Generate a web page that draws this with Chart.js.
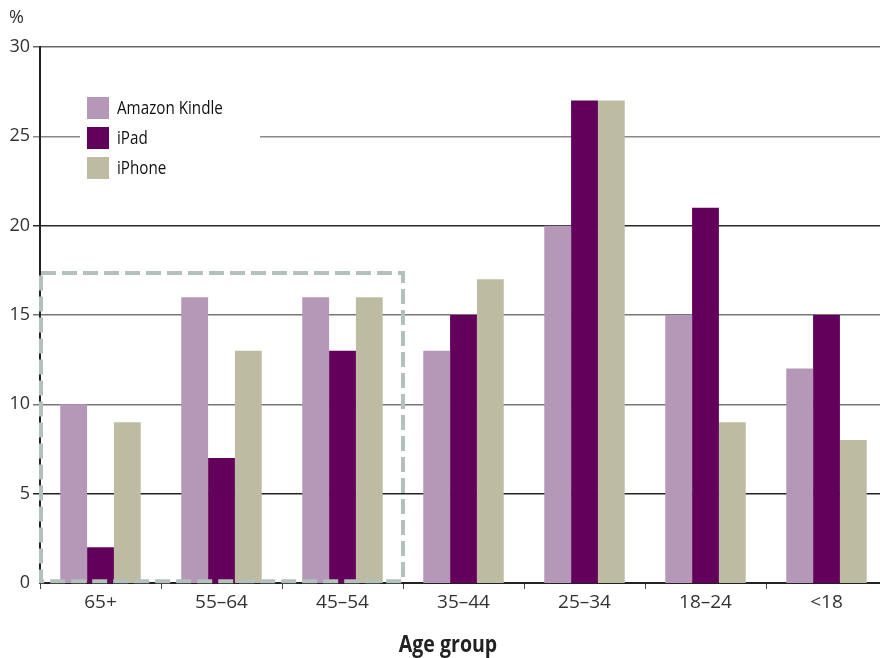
<!DOCTYPE html>
<html>
<head>
<meta charset="utf-8">
<script src="https://cdn.jsdelivr.net/npm/chart.js@4"></script>
<style>
  html, body { margin: 0; padding: 0; background: #fff; overflow: hidden; }
  #wrap { position: relative; width: 880px; height: 658px; overflow: hidden; }
</style>
</head>
<body>
<div id="wrap"><canvas id="ageChart" width="887" height="658"></canvas></div>
<script>
const ageGroups = ['65+', '55–64', '45–54', '35–44', '25–34', '18–24', '<18'];
const kindle = [10, 16, 16, 13, 20, 15, 12];
const ipad = [2, 7, 13, 15, 27, 21, 15];
const iphone = [9, 13, 16, 17, 27, 9, 8];
const seriesNames = ['Amazon Kindle', 'iPad', 'iPhone'];
const seriesColors = ['#b597b8', '#63005c', '#bdbca3'];
const yTicks = [0, 5, 10, 15, 20, 25, 30];
// highlighted block: first three age groups, up to about 17.3%
const highlight = { from: -0.5, to: 2.5, top: 17.35, bottom: 0.1 };

const gridColors = { 30: '#666', 25: '#8a8a8a', 20: '#2a2a2a', 15: '#777', 10: '#777', 5: '#222', 0: '#222' };

// narrow text, like the condensed face of the original
function narrowText(ctx, text, x, y, squeeze) {
  ctx.save();
  ctx.translate(x, y);
  ctx.scale(squeeze, 1);
  ctx.fillText(text, 0, 0);
  ctx.restore();
}

const extras = {
  id: 'extras',
  afterDatasetsDraw(chart) {
    const { ctx, scales: { x, y } } = chart;
    ctx.save();
    // dashed box
    ctx.strokeStyle = '#b3c0bb';
    ctx.lineWidth = 4;
    ctx.setLineDash([15, 6]);
    const left = x.getPixelForValue(highlight.from) + 1;
    const right = x.getPixelForValue(highlight.to);
    const top = y.getPixelForValue(highlight.top);
    const bottom = y.getPixelForValue(highlight.bottom);
    ctx.strokeRect(left, top, right - left, bottom - top);
    ctx.setLineDash([]);

    // legend
    ctx.fillStyle = '#fff';
    ctx.fillRect(80, 92, 180, 92);
    seriesNames.forEach((name, i) => {
      const boxTop = 97 + i * 30;
      ctx.fillStyle = seriesColors[i];
      ctx.fillRect(87, boxTop, 22, 22);
      ctx.fillStyle = '#111';
      ctx.font = '500 19px "Open Sans", sans-serif';
      ctx.textBaseline = 'middle';
      ctx.textAlign = 'left';
      narrowText(ctx, name, 117, boxTop + 12, 0.8);
    });

    // unit and axis title
    ctx.fillStyle = '#333';
    ctx.font = '18px "Open Sans", sans-serif';
    ctx.fillText('%', 9, 18);
    ctx.fillStyle = '#222';
    ctx.font = 'bold 23px "Open Sans", sans-serif';
    ctx.textAlign = 'center';
    narrowText(ctx, 'Age group', 448, 645, 0.85);
    ctx.restore();
  },
};

const ctx = document.getElementById('ageChart').getContext('2d');
const ageChart = new Chart(ctx, {
  type: 'bar',
  data: {
    labels: ageGroups,
    datasets: [kindle, ipad, iphone].map((values, i) => ({
      label: seriesNames[i],
      data: values,
      backgroundColor: seriesColors[i],
      borderWidth: 0,
      categoryPercentage: 0.665,
      barPercentage: 1,
    })),
  },
  options: {
    responsive: false,
    animation: false,
    devicePixelRatio: 1,
    layout: { padding: { top: 47, right: 0, left: 0, bottom: 0 } },
    plugins: {
      legend: { display: false },
      tooltip: { enabled: false },
    },
    scales: {
      x: {
        grid: { drawOnChartArea: false, drawTicks: true, tickLength: 6, color: '#444', lineWidth: 1 },
        border: { color: '#222', width: 2 },
        ticks: { color: '#333', font: { family: 'Open Sans', size: 19 }, padding: 2, maxRotation: 0 },
        afterFit(scale) { scale.height = 75; },
      },
      y: {
        min: 0,
        max: 30,
        afterBuildTicks(scale) { scale.ticks = yTicks.map((v) => ({ value: v })); },
        grid: {
          color: (c) => gridColors[c.tick.value] || '#777',
          lineWidth: (c) => (c.tick.value === 0 ? 0 : 1.5),
          tickLength: 7,
        },
        border: { color: '#222', width: 2 },
        ticks: { color: '#333', font: { family: 'Open Sans', size: 18 }, padding: 3 },
        afterFit(scale) { scale.width = 40; },
      },
    },
  },
  plugins: [extras],
});
</script>
</body>
</html>
